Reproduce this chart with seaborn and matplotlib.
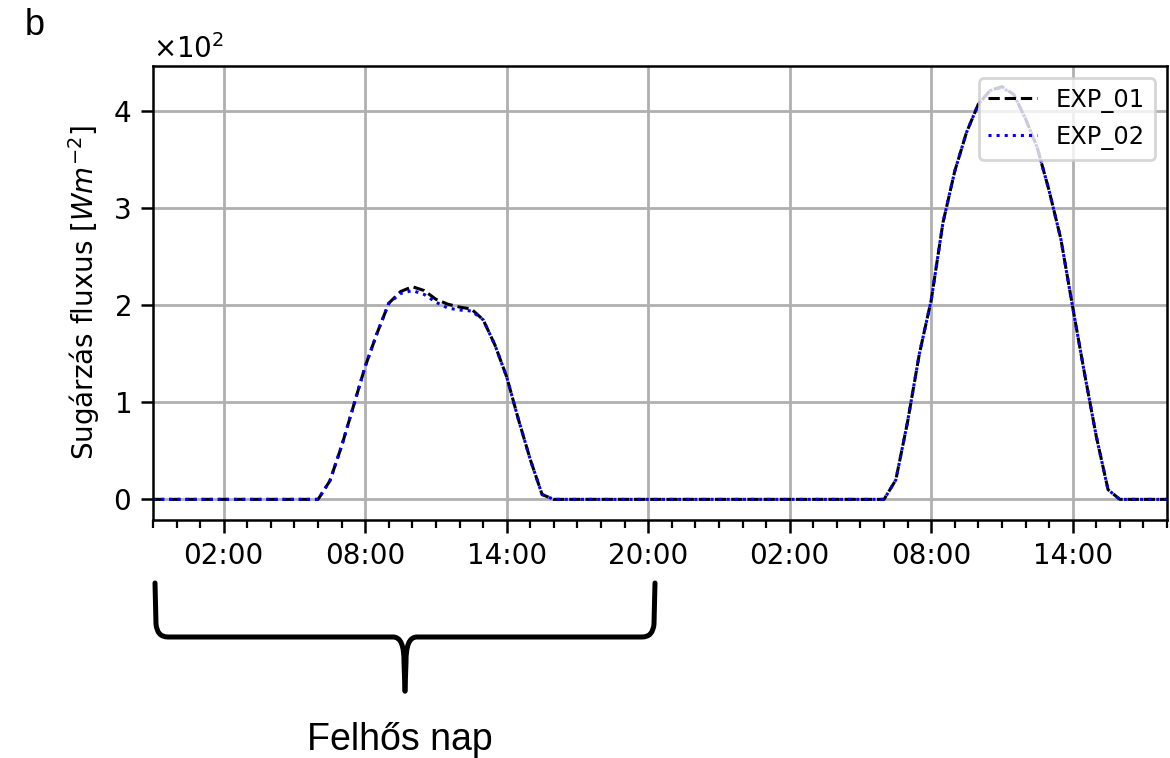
import matplotlib
matplotlib.use("Agg")
import matplotlib.pyplot as plt
import matplotlib.dates as mdates
from matplotlib.path import Path
from matplotlib.patches import PathPatch
import numpy as np
import pandas as pd
import seaborn as sns

# Half-hourly shortwave flux [W m^-2], 23:00 (day 0) to 18:00 (day 2)
start_time = "2020-07-01 23:00"
step = "30min"

exp01 = [
    0, 0,
    # day 1
    0, 0, 0, 0, 0, 0, 0, 0, 0, 0, 0, 0,
    0, 19, 55, 96, 137, 171, 202, 214, 219, 215, 206, 201,
    198, 196, 185, 159, 126, 82, 41, 5, 0, 0, 0, 0,
    0, 0, 0, 0, 0, 0, 0, 0, 0, 0, 0, 0,
    # day 2
    0, 0, 0, 0, 0, 0, 0, 0, 0, 0, 0, 0,
    0, 20, 80, 150, 205, 285, 338, 378, 407, 421, 425, 417,
    392, 362, 318, 268, 198, 130, 65, 10, 0, 0, 0, 0,
    0,
]
exp02 = [
    0, 0,
    # day 1
    0, 0, 0, 0, 0, 0, 0, 0, 0, 0, 0, 0,
    0, 19, 55, 96, 137, 171, 202, 212, 215, 211, 203, 197,
    195, 194, 185, 159, 126, 82, 41, 5, 0, 0, 0, 0,
    0, 0, 0, 0, 0, 0, 0, 0, 0, 0, 0, 0,
    # day 2
    0, 0, 0, 0, 0, 0, 0, 0, 0, 0, 0, 0,
    0, 20, 80, 150, 205, 285, 338, 378, 407, 421, 424, 417,
    392, 362, 318, 268, 198, 130, 65, 10, 0, 0, 0, 0,
    0,
]
series_names = ["EXP_01", "EXP_02"]

times = pd.date_range(start_time, periods=len(exp01), freq=step)
df = pd.DataFrame({"time": times, series_names[0]: exp01, series_names[1]: exp02})

W, H = 1170, 758
fig = plt.figure(figsize=(W / 200, H / 200), dpi=200)
ax = fig.add_axes([153 / W, 1 - 520 / H, (1167 - 153) / W, (520 - 66) / H])

sns.lineplot(data=df, x="time", y=series_names[0], ax=ax, color="black",
             linestyle="--", linewidth=1.1, label=series_names[0])
sns.lineplot(data=df, x="time", y=series_names[1], ax=ax, color="blue",
             linestyle=":", linewidth=1.1, label=series_names[1])

ax.set_xlim(times[0], times[-1])
ax.xaxis.set_major_locator(mdates.HourLocator(byhour=[2, 8, 14, 20]))
ax.xaxis.set_minor_locator(mdates.HourLocator(interval=1))
ax.xaxis.set_major_formatter(mdates.DateFormatter("%H:%M"))
ax.ticklabel_format(axis="y", style="sci", scilimits=(2, 2), useMathText=True)

ax.set_xlabel("")
ax.set_ylabel("Sugárzás fluxus [$Wm^{-2}$]", fontsize=10)
ax.tick_params(axis="both", which="major", labelsize=10, length=4.5, width=0.9)
ax.tick_params(axis="x", which="minor", length=2.8, width=0.8)
ax.grid(True, which="major", color="#b0b0b0", linewidth=1.0)
ax.set_axisbelow(True)
for sp in ax.spines.values():
    sp.set_linewidth(0.9)

ax.legend(loc="upper right", fontsize=8.7)

# Panel letter
fig.text(25 / W, 1 - 35 / H, "b", fontsize=13, family=["Liberation Sans", "DejaVu Sans"],
         va="baseline", ha="left")


def to_fig(pts):
    return [(x / W, 1 - y / H) for x, y in pts]


# Curly brace marking the cloudy day
c = 405
left = [(155, 583), (156, 624), (157, 637), (168, 637), (c - 12, 637),
        (c - 4, 637), (c - 1, 646), (c - 1, 662), (c, 691)]
codes = [Path.MOVETO, Path.LINETO, Path.CURVE3, Path.CURVE3, Path.LINETO,
         Path.CURVE4, Path.CURVE4, Path.CURVE4, Path.LINETO]
right = [(2 * c - x, y) for x, y in left]
for half in (left, right):
    patch = PathPatch(Path(to_fig(half), codes), transform=fig.transFigure,
                      facecolor="none", edgecolor="black", linewidth=1.8,
                      capstyle="round", joinstyle="round")
    fig.patches.append(patch)

fig.text(400 / W, 1 - 750 / H, "Felhős nap", fontsize=13.5,
         family=["Liberation Sans", "DejaVu Sans"], ha="center", va="baseline")

fig.savefig("out.png", dpi=200)
